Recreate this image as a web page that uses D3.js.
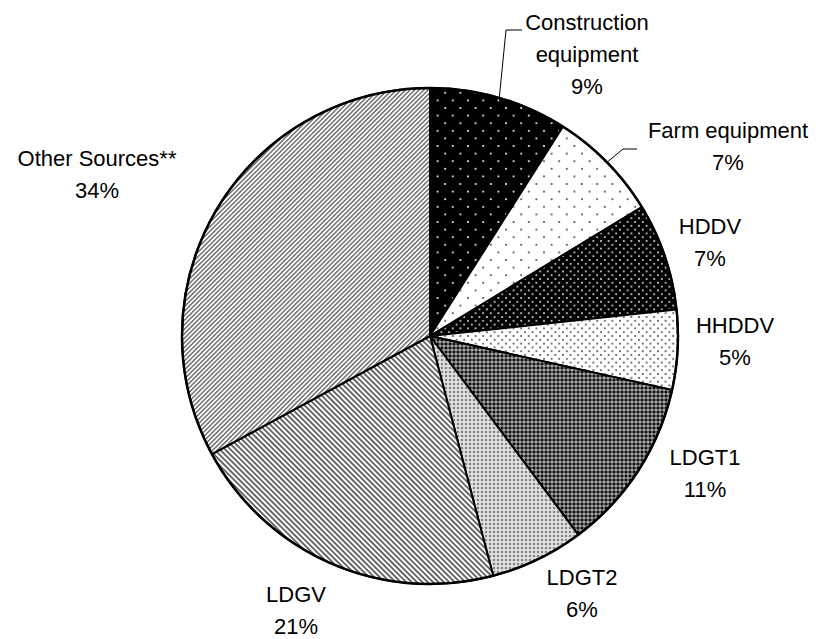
<!DOCTYPE html>
<html lang="en">

<head>
    <meta charset="UTF-8">
    <title>Pie</title>
    <script src="https://d3js.org/d3.v7.min.js"></script>
    <style>
        body { margin: 0; background: #fff; }
        text { font-family: Arial, "Liberation Sans", sans-serif; font-size: 22px; fill: #000; }
    </style>
</head>

<body>
    <script>
        // slice data, clockwise from 12 o'clock
        var categories = ["Construction equipment", "Farm equipment", "HDDV", "HHDDV", "LDGT1", "LDGT2", "LDGV", "Other Sources**"];
        var values = [9.0, 7.3, 7.0, 5.2, 11.3, 6.1, 21.2, 32.9];
        var pctLabels = ["9%", "7%", "7%", "5%", "11%", "6%", "21%", "34%"];
        var nameLines = [["Construction", "equipment"], ["Farm equipment"], ["HDDV"], ["HHDDV"], ["LDGT1"], ["LDGT2"], ["LDGV"], ["Other Sources**"]];

        // label layout (centre x, first line y)
        var labelPos = [[587, 22], [728, 130], [710, 226], [735, 325], [705, 457], [582, 577], [296, 594], [97, 158]];
        var lineH = 32;

        var width = 838, height = 639;
        var cx = 430, cy = 336, r = 248;

        var svg = d3.select("body")
            .append("svg")
            .attr("width", width)
            .attr("height", height);

        var defs = svg.append("defs");

        // staggered dot pattern
        function dots(id, size, bg, fg, dr) {
            var p = defs.append("pattern")
                .attr("id", id)
                .attr("patternUnits", "userSpaceOnUse")
                .attr("width", size).attr("height", size);
            p.append("rect").attr("width", size).attr("height", size).attr("fill", bg);
            [[0, 0], [size, 0], [0, size], [size, size], [size / 2, size / 2]].forEach(function (d) {
                p.append("circle").attr("cx", d[0]).attr("cy", d[1]).attr("r", dr).attr("fill", fg);
            });
        }
        // diagonal stripes
        function stripes(id, period, sw, col, angle) {
            var p = defs.append("pattern")
                .attr("id", id)
                .attr("patternUnits", "userSpaceOnUse")
                .attr("width", period).attr("height", period)
                .attr("patternTransform", "rotate(" + angle + ")");
            p.append("rect").attr("width", period).attr("height", period).attr("fill", "#fff");
            p.append("rect").attr("y", 0).attr("width", period).attr("height", sw).attr("fill", col);
        }
        // checker / diamond texture
        function checker(id, size, bg, dark, light, dr) {
            var p = defs.append("pattern")
                .attr("id", id)
                .attr("patternUnits", "userSpaceOnUse")
                .attr("width", size).attr("height", size);
            p.append("rect").attr("width", size).attr("height", size).attr("fill", bg);
            [[0, 0], [size, 0], [0, size], [size, size]].forEach(function (d) {
                p.append("circle").attr("cx", d[0]).attr("cy", d[1]).attr("r", dr).attr("fill", dark);
            });
            p.append("rect").attr("x", size / 2 - 0.6).attr("y", size / 2 - 0.6)
                .attr("width", 1.2).attr("height", 1.2).attr("fill", light);
        }

        dots("pCon", 15.2, "#000", "#fff", 1.0);
        dots("pFarm", 15.2, "#fff", "#444", 1.0);
        dots("pHddv", 7.6, "#000", "#fff", 0.9);
        dots("pHhddv", 7.6, "#fff", "#333", 0.9);
        checker("pT1", 4, "#707070", "#111", "#fff", 1.3);
        checker("pT2", 4, "#d4d4d4", "#6a6a6a", "#fff", 1.0);
        stripes("pLdgv", 3.8, 1.7, "#555", 45);
        stripes("pOther", 3.2, 1.4, "#666", -45);

        var fills = ["url(#pCon)", "url(#pFarm)", "url(#pHddv)", "url(#pHhddv)", "url(#pT1)", "url(#pT2)", "url(#pLdgv)", "url(#pOther)"];

        var pie = d3.pie().sort(null).value(function (d) { return d; });
        var arc = d3.arc().innerRadius(0).outerRadius(r);
        var arcs = pie(values);

        var g = svg.append("g").attr("transform", "translate(" + cx + "," + cy + ")");

        g.selectAll("path.slice")
            .data(arcs)
            .enter()
            .append("path")
            .attr("class", "slice")
            .attr("d", arc)
            .attr("fill", function (d, i) { return fills[i]; })
            .attr("stroke", "#000")
            .attr("stroke-width", 2)
            .attr("stroke-linejoin", "round");

        g.append("circle")
            .attr("r", r)
            .attr("fill", "none")
            .attr("stroke", "#000")
            .attr("stroke-width", 2.5);

        // leader lines for the two top labels: start on the slice edge
        function edgePoint(d, frac) {
            var a = d.startAngle + (d.endAngle - d.startAngle) * frac;
            return [cx + r * Math.sin(a), cy - r * Math.cos(a)];
        }
        var p0 = edgePoint(arcs[0], 0.5);
        svg.append("path")
            .attr("d", "M" + p0[0] + "," + (p0[1] + 1) + "L506,30L522,30")
            .attr("fill", "none").attr("stroke", "#000").attr("stroke-width", 1);
        var p1 = edgePoint(arcs[1], 0.5);
        svg.append("path")
            .attr("d", "M" + p1[0] + "," + p1[1] + "L623,149L637,149")
            .attr("fill", "none").attr("stroke", "#000").attr("stroke-width", 1);

        // labels
        var lab = svg.selectAll("g.lab")
            .data(categories)
            .enter()
            .append("g")
            .attr("class", "lab");
        lab.each(function (c, i) {
            var lines = nameLines[i].concat([pctLabels[i]]);
            var t = d3.select(this).append("text")
                .attr("text-anchor", "middle");
            lines.forEach(function (s, k) {
                t.append("tspan")
                    .attr("x", labelPos[i][0])
                    .attr("y", labelPos[i][1] + k * lineH + 8)
                    .text(s);
            });
        });
    </script>
</body>

</html>
